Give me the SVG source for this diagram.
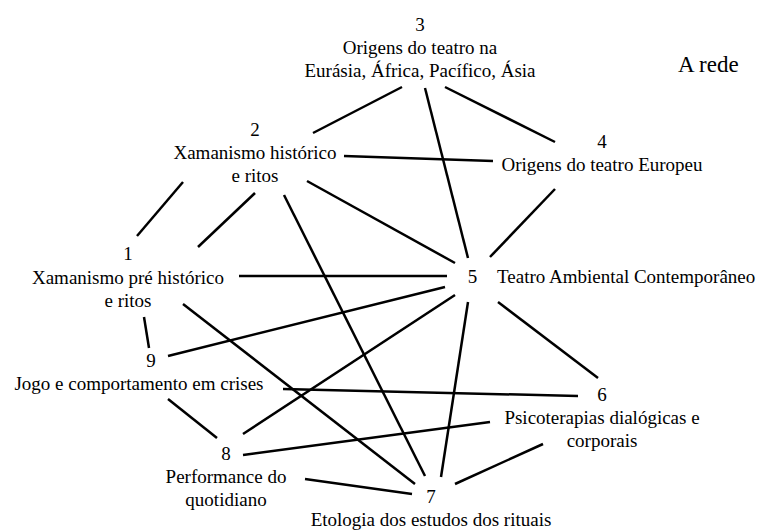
<svg xmlns="http://www.w3.org/2000/svg" width="759" height="531" viewBox="0 0 759 531">
  <style>
    .bg { fill: #ffffff; }
    text { font-family: 'Liberation Serif', 'DejaVu Serif', serif; font-size: 19px; fill: #000000; }
    .c { text-anchor: middle; }
    .title { font-size: 23px; }
    #connectors line { stroke: #000000; stroke-width: 2.5; stroke-linecap: butt; }
  </style>
  <rect class="bg" x="0" y="0" width="759" height="531"/>

  <!-- connectors between the themes of the network -->
  <g id="connectors">
    <line x1="402" y1="87" x2="313" y2="133"/>
    <line x1="425" y1="88" x2="468" y2="258"/>
    <line x1="445" y1="87" x2="555" y2="142"/>
    <line x1="344" y1="156" x2="493" y2="161"/>
    <line x1="183" y1="182" x2="137" y2="236"/>
    <line x1="255" y1="193" x2="198" y2="247"/>
    <line x1="284" y1="195" x2="425" y2="476"/>
    <line x1="307" y1="181" x2="455" y2="263"/>
    <line x1="555" y1="189" x2="490" y2="257"/>
    <line x1="239" y1="276" x2="447" y2="276"/>
    <line x1="168" y1="356" x2="445" y2="287"/>
    <line x1="183" y1="304" x2="415" y2="484"/>
    <line x1="144" y1="317" x2="149" y2="348"/>
    <line x1="243" y1="434" x2="455" y2="295"/>
    <line x1="468" y1="302" x2="441" y2="477"/>
    <line x1="498" y1="302" x2="598" y2="378"/>
    <line x1="283" y1="389" x2="578" y2="396"/>
    <line x1="168" y1="399" x2="217" y2="438"/>
    <line x1="243" y1="455" x2="490" y2="422"/>
    <line x1="305" y1="479" x2="412" y2="494"/>
    <line x1="543" y1="444" x2="455" y2="484"/>
  </g>

  <g id="title" font-family="Liberation Serif, DejaVu Serif, serif">
    <text class="title" x="678" y="72">A rede</text>
  </g>

  <g id="node1" font-family="Liberation Serif, DejaVu Serif, serif">
    <text class="c" x="128" y="260">1</text>
    <text class="c" x="128" y="284">Xamanismo pré histórico</text>
    <text class="c" x="128" y="307">e ritos</text>
  </g>

  <g id="node2" font-family="Liberation Serif, DejaVu Serif, serif">
    <text class="c" x="255" y="136">2</text>
    <text class="c" x="255" y="159">Xamanismo histórico</text>
    <text class="c" x="255" y="182">e ritos</text>
  </g>

  <g id="node3" font-family="Liberation Serif, DejaVu Serif, serif">
    <text class="c" x="420" y="31">3</text>
    <text class="c" x="420" y="54">Origens do teatro na</text>
    <text class="c" x="420" y="77">Eurásia, África, Pacífico, Ásia</text>
  </g>

  <g id="node4" font-family="Liberation Serif, DejaVu Serif, serif">
    <text class="c" x="602" y="148">4</text>
    <text class="c" x="602" y="171">Origens do teatro Europeu</text>
  </g>

  <g id="node5" font-family="Liberation Serif, DejaVu Serif, serif">
    <text class="c" x="472.5" y="283">5</text>
    <text x="497" y="283">Teatro Ambiental Contemporâneo</text>
  </g>

  <g id="node6" font-family="Liberation Serif, DejaVu Serif, serif">
    <text class="c" x="602" y="401">6</text>
    <text class="c" x="602" y="424">Psicoterapias dialógicas e</text>
    <text class="c" x="602" y="447">corporais</text>
  </g>

  <g id="node7" font-family="Liberation Serif, DejaVu Serif, serif">
    <text class="c" x="431" y="503">7</text>
    <text class="c" x="431" y="526">Etologia dos estudos dos rituais</text>
  </g>

  <g id="node8" font-family="Liberation Serif, DejaVu Serif, serif">
    <text class="c" x="226" y="460">8</text>
    <text class="c" x="226" y="483">Performance do</text>
    <text class="c" x="226" y="506">quotidiano</text>
  </g>

  <g id="node9" font-family="Liberation Serif, DejaVu Serif, serif">
    <text class="c" x="151" y="367">9</text>
    <text class="c" x="139" y="390">Jogo e comportamento em crises</text>
  </g>
</svg>
